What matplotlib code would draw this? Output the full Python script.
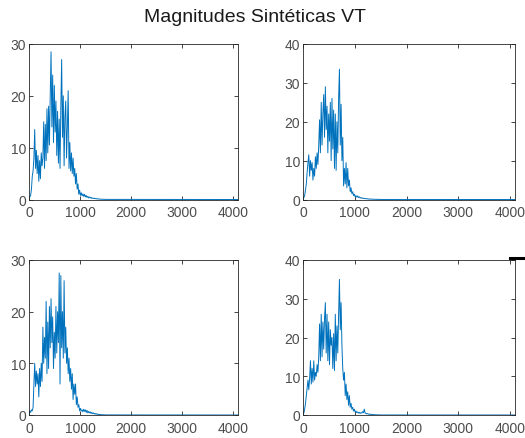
import matplotlib
matplotlib.use("Agg")
import matplotlib.pyplot as plt
import numpy as np
from matplotlib.lines import Line2D

# spectral magnitude, one value every 16 bins starting at bin 0
BIN_STEP = 16
N_BINS = 4096

mag_1 = [0.0, 0.5, 0.8, 2.0, 4.5, 5.5, 8.0, 13.5, 6.0, 9.5, 5.0, 8.5, 3.5, 7.5, 4.0, 9.0,
         6.5, 8.0, 15.0, 6.0, 14.5, 7.5, 17.5, 9.0, 18.0, 10.5, 20.0, 28.5, 14.0, 24.0, 11.0, 22.0,
         13.0, 19.0, 8.5, 17.0, 7.0, 15.5, 6.0, 18.0, 27.0, 12.0, 20.0, 6.5, 16.0, 19.0, 8.0, 14.0,
         21.0, 6.0, 11.0, 5.5, 9.0, 5.0, 8.0, 4.5, 6.0, 3.0, 5.0, 2.0, 3.0, 1.0, 1.8, 0.8,
         1.3, 0.7, 1.1, 0.6, 1.0, 0.5, 0.8, 0.4, 0.6, 0.3, 0.5, 0.3, 0.4, 0.2, 0.3, 0.2,
         0.25, 0.15, 0.2, 0.1, 0.15, 0.1, 0.1, 0.05, 0.08, 0.05, 0.05, 0.03, 0.04, 0.02, 0.03, 0.02]

mag_2 = [0.0, 0.5, 1.0, 2.5, 4.0, 7.0, 9.5, 11.5, 6.0, 10.0, 7.5, 9.5, 5.0, 8.0, 6.0, 11.0,
         8.0, 12.0, 9.0, 14.0, 20.5, 12.0, 25.0, 14.0, 22.0, 27.0, 16.0, 29.0, 18.0, 24.0, 12.0, 22.0,
         15.0, 25.0, 10.0, 26.0, 13.0, 23.0, 8.0, 22.0, 7.5, 20.0, 12.0, 26.0, 33.5, 14.0, 24.5, 10.0,
         16.0, 3.5, 8.0, 4.0, 9.5, 3.0, 8.0, 3.5, 5.0, 2.0, 3.0, 1.5, 2.0, 1.0, 1.4, 0.7,
         1.0, 0.6, 0.9, 0.5, 0.7, 0.4, 0.5, 0.3, 0.4, 0.25, 0.3, 0.2, 0.25, 0.15, 0.2, 0.1,
         0.15, 0.1, 0.1, 0.08, 0.1, 0.05, 0.06, 0.04, 0.05, 0.03, 0.04, 0.02, 0.03, 0.02, 0.02, 0.01]

mag_3 = [0.3, 0.8, 0.5, 1.0, 0.8, 1.5, 6.0, 10.0, 5.5, 8.5, 6.0, 8.0, 3.5, 9.0, 5.5, 10.0,
         6.5, 17.0, 10.0, 15.0, 11.0, 22.0, 8.0, 18.0, 9.0, 21.0, 13.0, 22.5, 14.0, 19.0, 9.0, 16.0,
         11.0, 21.0, 12.0, 20.0, 14.0, 27.5, 6.0, 27.0, 13.0, 20.0, 11.0, 26.0, 12.0, 17.0, 10.0, 13.0,
         8.0, 11.0, 6.5, 9.0, 5.0, 8.0, 3.0, 6.0, 4.0, 6.0, 2.0, 3.5, 1.5, 2.0, 0.8, 1.3,
         0.8, 1.0, 0.6, 1.1, 0.7, 1.0, 0.5, 0.9, 0.4, 0.7, 0.4, 0.6, 0.3, 0.5, 0.25, 0.4,
         0.2, 0.3, 0.15, 0.25, 0.1, 0.15, 0.08, 0.1, 0.05, 0.08, 0.04, 0.05, 0.03, 0.04, 0.02, 0.02]

mag_4 = [0.0, 0.5, 1.5, 3.0, 5.0, 7.0, 9.0, 6.5, 9.5, 14.0, 8.0, 12.0, 8.5, 14.0, 9.0, 11.0,
         10.0, 13.0, 11.0, 15.0, 23.5, 14.0, 26.0, 15.0, 24.0, 17.0, 25.0, 29.0, 16.0, 26.0, 14.0, 24.0,
         13.0, 22.0, 18.0, 20.0, 12.0, 21.0, 11.5, 26.0, 14.0, 23.0, 16.0, 26.0, 35.0, 22.0, 29.0, 18.0,
         12.0, 9.0, 11.0, 5.0, 8.0, 4.0, 6.0, 2.5, 5.0, 2.0, 3.0, 1.5, 2.0, 1.0, 1.5, 0.8,
         1.0, 0.6, 0.8, 0.5, 0.7, 0.4, 0.6, 0.5, 0.9, 0.6, 1.5, 0.5, 0.4, 0.3, 0.35, 0.2,
         0.25, 0.15, 0.2, 0.1, 0.12, 0.08, 0.1, 0.05, 0.06, 0.04, 0.05, 0.03, 0.03, 0.02, 0.02, 0.01]

series = [mag_1, mag_2, mag_3, mag_4]
y_limits = [30, 40, 30, 40]
y_ticks = [[0, 10, 20, 30], [0, 10, 20, 30, 40], [0, 10, 20, 30], [0, 10, 20, 30, 40]]
x_ticks = [0, 1000, 2000, 3000, 4000]

LINE_COLOR = "#0072BD"
AXIS_COLOR = "#262626"
TICK_COLOR = "#4d4d4d"

plt.rcParams["font.family"] = ["Liberation Sans", "DejaVu Sans"]

W, H = 525, 439
fig = plt.figure(figsize=(W / 100, H / 100), dpi=100)
fig.patch.set_facecolor("white")

# axes boxes in pixels: left, top, right, bottom
boxes = [(29, 45, 238, 200.5), (303, 45, 515, 200.5),
         (29, 261, 238, 416), (303, 261, 515, 416)]

for box, mag, ymax, yt in zip(boxes, series, y_limits, y_ticks):
    l, t, r, b = box
    ax = fig.add_axes([l / W, 1 - b / H, (r - l) / W, (b - t) / H])
    x = np.arange(len(mag)) * BIN_STEP
    x = np.append(x, N_BINS)
    y = np.append(mag, 0.0)
    ax.plot(x, y, color=LINE_COLOR, linewidth=0.7)
    ax.set_xlim(0, N_BINS)
    ax.set_ylim(0, ymax)
    ax.set_xticks(x_ticks)
    ax.set_yticks(yt)
    ax.tick_params(direction="in", length=3, width=0.6, colors=AXIS_COLOR,
                   labelcolor=TICK_COLOR, labelsize=10, top=True, right=True)
    ax.tick_params(axis="x", pad=4)
    ax.tick_params(axis="y", pad=2)
    for s in ax.spines.values():
        s.set_color(AXIS_COLOR)
        s.set_linewidth(0.6)

fig.text(255 / W, 1 - 17 / H, "Magnitudes Sintéticas VT", ha="center", va="center",
         fontsize=14, color="#1a1a1a")

# small black mark at the top right of the last panel
fig.add_artist(Line2D([510 / W, 1.0], [1 - 259 / H, 1 - 259 / H],
                      color="black", linewidth=2.2, transform=fig.transFigure))

fig.savefig("out.png", dpi=100, facecolor="white")
